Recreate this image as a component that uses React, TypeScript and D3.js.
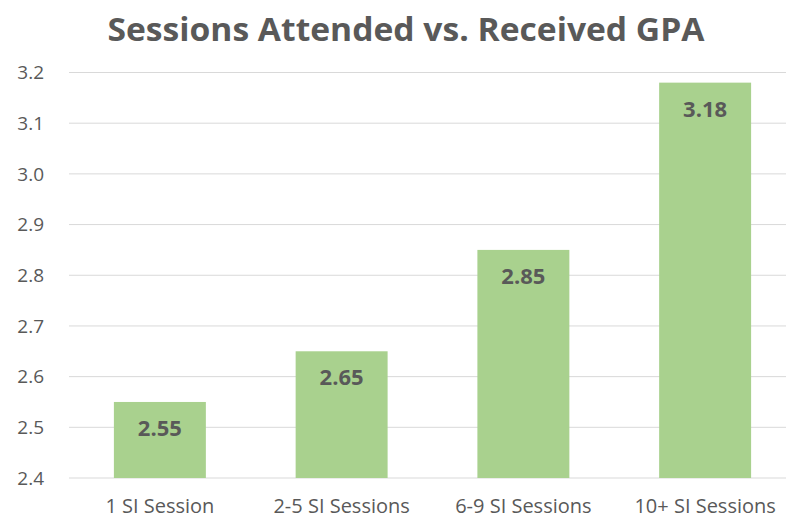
import React from 'react';
import * as d3 from 'd3';

const categories = ['1 SI Session', '2-5 SI Sessions', '6-9 SI Sessions', '10+ SI Sessions'];
const gpaValues = [2.55, 2.65, 2.85, 3.18];
const yTicks = [2.4, 2.5, 2.6, 2.7, 2.8, 2.9, 3.0, 3.1, 3.2];

const W = 786;
const H = 520;
const margin = { left: 69, right: -10, top: 72.5, bottom: 42 };
const grey = '#595959';
const font = '"Open Sans", sans-serif';

export default function App() {
  const x = d3
    .scaleBand()
    .domain(categories)
    .range([margin.left, W - margin.right])
    .paddingInner(0.494)
    .paddingOuter(0.247);
  const y = d3.scaleLinear().domain([2.4, 3.2]).range([H - margin.bottom, margin.top]);

  return (
    <svg width={W} height={H} style={{ position: 'absolute', left: 0, top: 0, background: '#fff' }}>
      <text x={406} y={41} textAnchor="middle" fontFamily={font} fontWeight="bold" fontSize={33}
        textLength={597} lengthAdjust="spacingAndGlyphs" fill={grey}>Sessions Attended vs. Received GPA</text>

      {yTicks.map((t) => (
        <g key={t}>
          <line x1={margin.left} x2={W} y1={y(t)} y2={y(t)} stroke="#d9d9d9" strokeWidth={1} />
          <text x={44} y={y(t)} dy="0.35em" textAnchor="end" fontFamily={font} fontSize={19} fill={grey}>
            {t.toFixed(1)}
          </text>
        </g>
      ))}

      {gpaValues.map((v, i) => {
        const c = categories[i];
        const x0 = x(c)!;
        return (
          <g key={c}>
            <rect x={x0} y={y(v)} width={x.bandwidth()} height={y(2.4) - y(v)} fill="#a9d18e" />
            <text x={x0 + x.bandwidth() / 2} y={y(v) + 34} textAnchor="middle" fontFamily={font}
              fontWeight="bold" fontSize={22} fill={grey}>{v.toFixed(2)}</text>
            <text x={x0 + x.bandwidth() / 2} y={513} textAnchor="middle" fontFamily={font}
              fontSize={20} fill={grey}>{c}</text>
          </g>
        );
      })}
    </svg>
  );
}
